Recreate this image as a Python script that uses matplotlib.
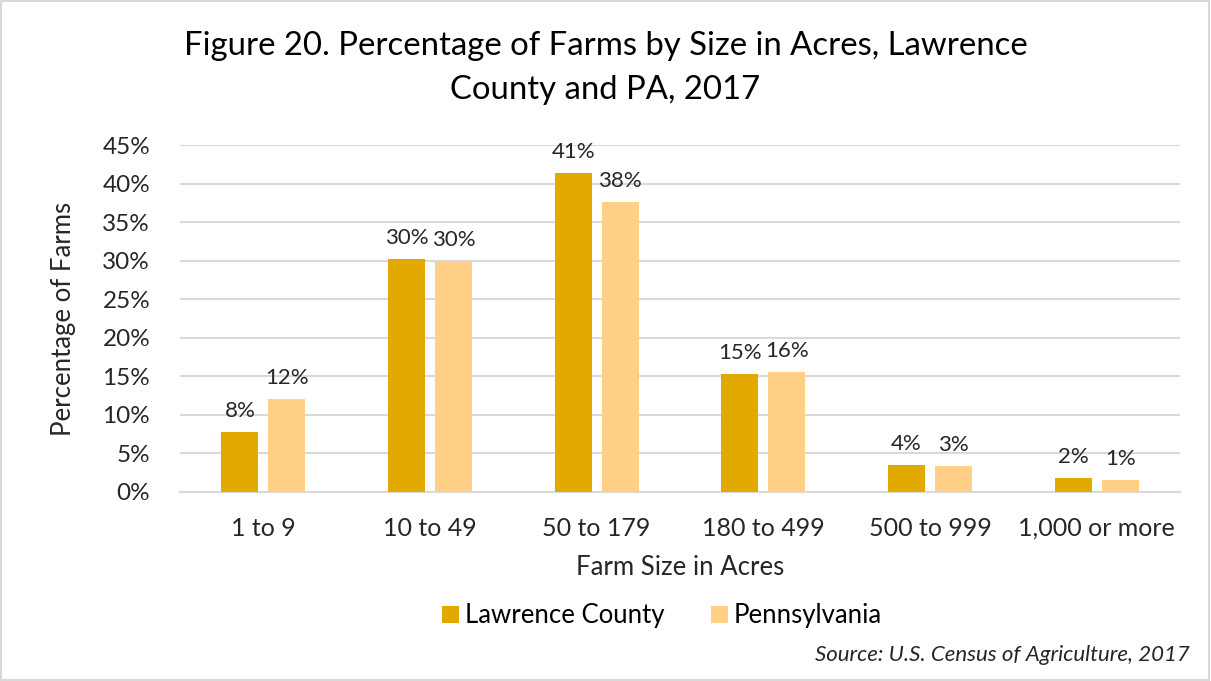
import numpy as np
import matplotlib
matplotlib.use("Agg")
import matplotlib.pyplot as plt
from matplotlib.patches import Rectangle

# data (percent of farms)
sizes = ["1 to 9", "10 to 49", "50 to 179", "180 to 499", "500 to 999", "1,000 or more"]
lawrence = [7.8, 30.2, 41.4, 15.3, 3.5, 1.8]
penn = [12.1, 29.9, 37.6, 15.5, 3.4, 1.5]
lawrence_lbl = ["8%", "30%", "41%", "15%", "4%", "2%"]
penn_lbl = ["12%", "30%", "38%", "16%", "3%", "1%"]
yticks = [0, 5, 10, 15, 20, 25, 30, 35, 40, 45]

c_law = "#E2A900"
c_pa = "#FFD086"
grid_c = "#D9D9D9"
txt_c = "#262626"

plt.rcParams['font.family'] = ['Lato', 'DejaVu Sans']

W, H = 1211, 681
fig = plt.figure(figsize=(W/100, H/100), dpi=100)
fig.patches.append(Rectangle((0.001, 0.002), 0.997, 0.996, transform=fig.transFigure,
                             fill=False, edgecolor=grid_c, linewidth=1.5))

ax = fig.add_axes([180/W, (H-492)/H, 1000/W, 347/H])
x = np.arange(len(sizes))
bw = 0.222
off = 0.141
b1 = ax.bar(x - off, lawrence, bw, color=c_law, label="Lawrence County", zorder=3)
b2 = ax.bar(x + off, penn, bw, color=c_pa, label="Pennsylvania", zorder=3)

for bars, lbls in ((b1, lawrence_lbl), (b2, penn_lbl)):
    for b, t in zip(bars, lbls):
        ax.annotate(t, (b.get_x() + b.get_width()/2, b.get_height()),
                    xytext=(0, 8), textcoords="offset points",
                    ha="center", va="bottom", fontsize=16, color=txt_c)

ax.set_xlim(-0.5, len(sizes) - 0.5)
ax.set_ylim(0, 45)
ax.set_yticks(yticks)
ax.set_yticklabels([f"{v}%" for v in yticks], fontsize=17.5, color=txt_c)
ax.set_xticks(x)
ax.set_xticklabels(sizes, fontsize=18, color=txt_c)
ax.tick_params(axis="both", length=0)
ax.tick_params(axis="y", pad=21.5)
ax.tick_params(axis="x", pad=18)
ax.grid(axis="y", color=grid_c, linewidth=1.5, zorder=0)
for s in ("top", "right", "left"):
    ax.spines[s].set_visible(False)
ax.spines["bottom"].set_color(grid_c)
ax.spines["bottom"].set_linewidth(1.5)

ax.set_xlabel("Farm Size in Acres", fontsize=18.5, color=txt_c, labelpad=11)
ax.set_ylabel("Percentage of Farms", fontsize=18.5, color=txt_c, labelpad=19)

fig.text(0.5, 1 - 68/H, "Figure 20. Percentage of Farms by Size in Acres, Lawrence\nCounty and PA, 2017",
         ha="center", va="center", fontsize=23.7, color="black", linespacing=1.6)

fig.legend(handles=[b1, b2], loc="center", bbox_to_anchor=(662/W, 1 - 616/H), ncol=2,
           frameon=False, fontsize=18.5, handlelength=0.65, handleheight=0.65,
           columnspacing=1.8, handletextpad=0.25)

fig.text(1190/W, 1 - 655/H, "Source: U.S. Census of Agriculture, 2017", ha="right", va="center",
         fontsize=16, style="italic", color=txt_c)

fig.savefig("out.png", dpi=100)
